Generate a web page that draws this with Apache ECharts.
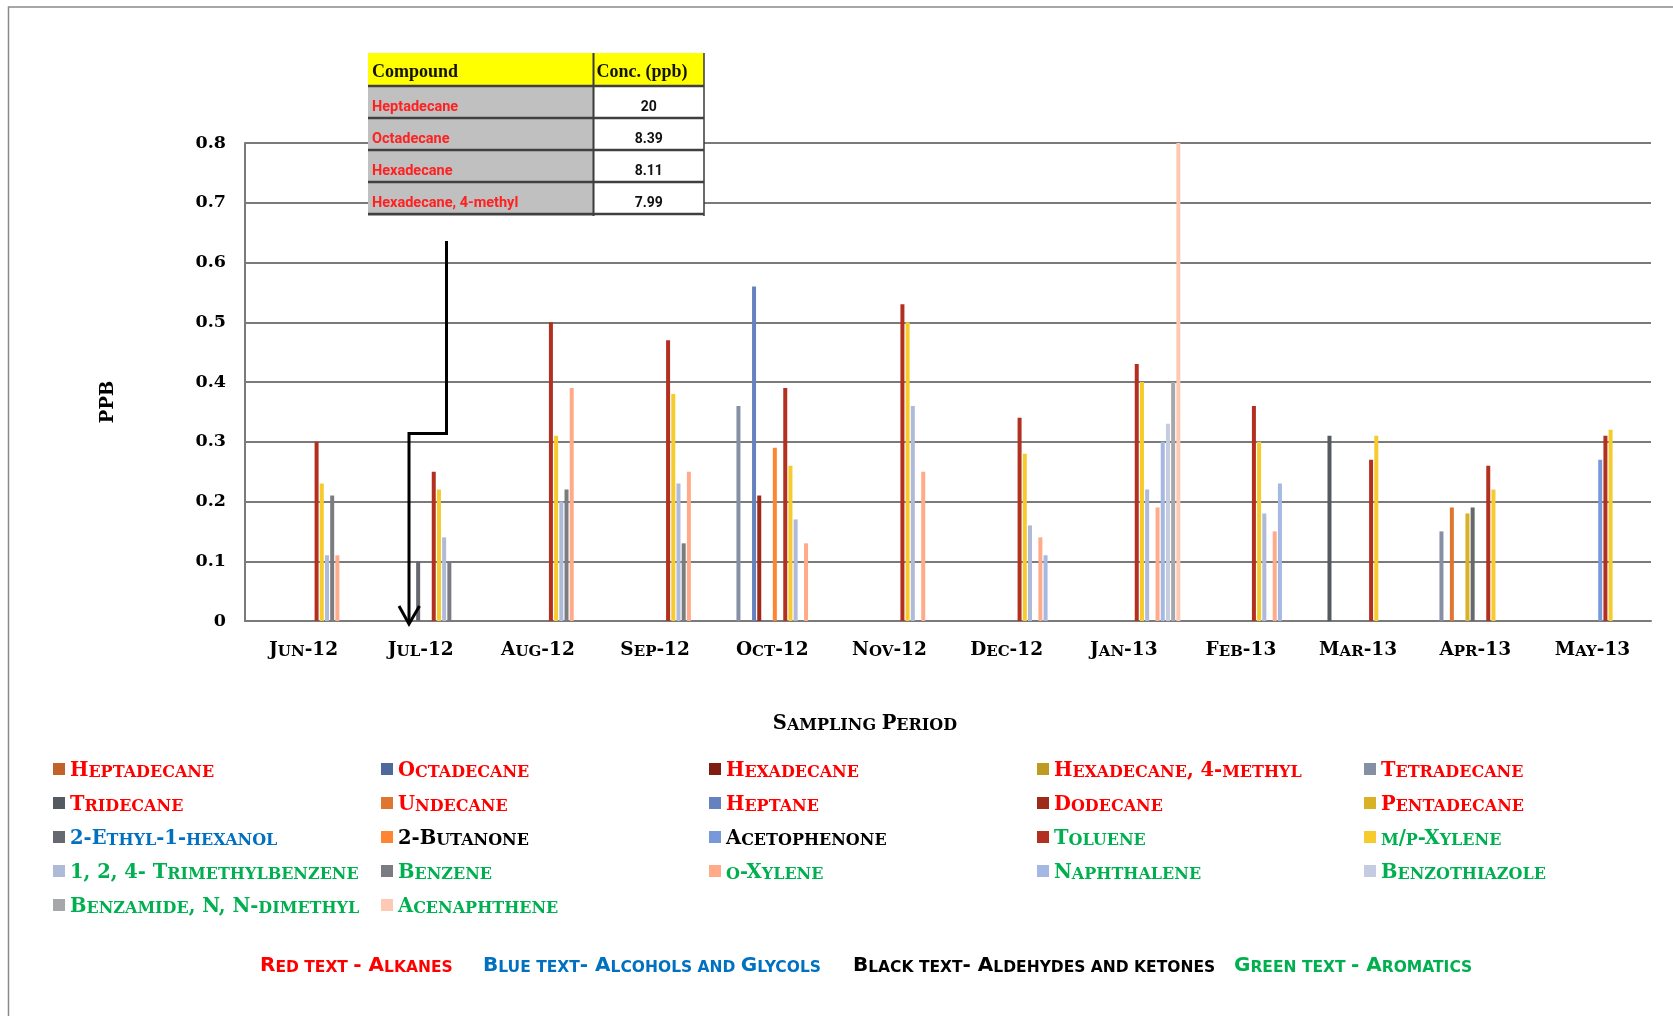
<!DOCTYPE html>
<html>
<head>
<meta charset="utf-8">
<title>VOC concentrations by sampling period</title>
<script src="https://cdn.jsdelivr.net/npm/echarts@6/dist/echarts.min.js"></script>
<style>
  html, body { margin: 0; padding: 0; background: #fff; }
  #chart { width: 1673px; height: 1016px; }
</style>
</head>
<body>
<div id="chart"></div>
<script>
var _ = null;

// sampling months (x axis)
var months = ['Jun-12', 'Jul-12', 'Aug-12', 'Sep-12', 'Oct-12', 'Nov-12',
              'Dec-12', 'Jan-13', 'Feb-13', 'Mar-13', 'Apr-13', 'May-13'];

// concentrations in ppb, one value per month, null = not detected
var heptadecane   = [_, _, _, _, _, _, _, _, _, _, _, _];
var octadecane    = [_, _, _, _, _, _, _, _, _, _, _, _];
var hexadecane    = [_, _, _, _, _, _, _, _, _, _, _, _];
var hexadecane4m  = [_, _, _, _, _, _, _, _, _, _, _, _];
var tetradecane   = [_, _, _, _, 0.36, _, _, _, _, _, 0.15, _];
var tridecane     = [_, _, _, _, _, _, _, _, _, 0.31, _, _];
var undecane      = [_, _, _, _, _, _, _, _, _, _, 0.19, _];
var heptane       = [_, _, _, _, 0.56, _, _, _, _, _, _, _];
var dodecane      = [_, _, _, _, 0.21, _, _, _, _, _, _, _];
var pentadecane   = [_, _, _, _, _, _, _, _, _, _, 0.18, _];
var ethylhexanol  = [_, 0.10, _, _, _, _, _, _, _, _, 0.19, _];
var butanone      = [_, _, _, _, 0.29, _, _, _, _, _, _, _];
var acetophenone  = [_, _, _, _, _, _, _, _, _, _, _, 0.27];
var toluene       = [0.30, 0.25, 0.50, 0.47, 0.39, 0.53, 0.34, 0.43, 0.36, 0.27, 0.26, 0.31];
var mpXylene      = [0.23, 0.22, 0.31, 0.38, 0.26, 0.50, 0.28, 0.40, 0.30, 0.31, 0.22, 0.32];
var tmb           = [0.11, 0.14, 0.20, 0.23, 0.17, 0.36, 0.16, 0.22, 0.18, _, _, _];
var benzene       = [0.21, 0.10, 0.22, 0.13, _, _, _, _, _, _, _, _];
var oXylene       = [0.11, _, 0.39, 0.25, 0.13, 0.25, 0.14, 0.19, 0.15, _, _, _];
var naphthalene   = [_, _, _, _, _, _, 0.11, 0.30, 0.23, _, _, _];
var benzothiazole = [_, _, _, _, _, _, _, 0.33, _, _, _, _];
var benzamide     = [_, _, _, _, _, _, _, 0.40, _, _, _, _];
var acenaphthene  = [_, _, _, _, _, _, _, 0.80, _, _, _, _];

var compounds = ['Heptadecane', 'Octadecane', 'Hexadecane', 'Hexadecane, 4-methyl', 'Tetradecane',
                 'Tridecane', 'Undecane', 'Heptane', 'Dodecane', 'Pentadecane',
                 '2-Ethyl-1-hexanol', '2-Butanone', 'Acetophenone', 'Toluene', 'm/p-Xylene',
                 '1, 2, 4- Trimethylbenzene', 'Benzene', 'o-Xylene', 'Naphthalene', 'Benzothiazole',
                 'Benzamide, N, N-dimethyl', 'Acenaphthene'];
var values = [heptadecane, octadecane, hexadecane, hexadecane4m, tetradecane,
              tridecane, undecane, heptane, dodecane, pentadecane,
              ethylhexanol, butanone, acetophenone, toluene, mpXylene,
              tmb, benzene, oXylene, naphthalene, benzothiazole,
              benzamide, acenaphthene];
// r = alkanes, u = alcohols, k = ketones, g = aromatics
var groups = ['r', 'r', 'r', 'r', 'r', 'r', 'r', 'r', 'r', 'r',
              'u', 'k', 'k', 'g', 'g', 'g', 'g', 'g', 'g', 'g', 'g', 'g'];
var colors = ['#C0622A', '#4F6A9A', '#7F1E10', '#BF9A20', '#8590A5',
              '#555960', '#DE7530', '#6582BE', '#9E2A18', '#D8B125',
              '#65686F', '#FF8533', '#7799D9', '#B2301F', '#F6CB2D',
              '#AEBAD8', '#7A7C82', '#FFAA88', '#A5B8E3', '#C5CCE2',
              '#A5A7AA', '#FDC8B4'];

// inset table
var tableCompounds = ['Heptadecane', 'Octadecane', 'Hexadecane', 'Hexadecane, 4-methyl'];
var tableConc = ['20', '8.39', '8.11', '7.99'];

var groupColor = { r: '#FF0000', u: '#0070C0', k: '#000000', g: '#00B050' };
var SERIF = '"DejaVu Serif", serif';

// fake small caps with rich text: lower case letters become smaller capitals
function smallCaps(text, big, small) {
  var out = '', run = '', key = null;
  for (var i = 0; i < text.length; i++) {
    var ch = text[i];
    var k = (ch >= 'a' && ch <= 'z') ? small : (ch === ' ' && key ? key : big);
    if (k !== key && run) {
      out += '{' + key + '|' + run + '}';
      run = '';
    }
    key = k;
    run += ch.toUpperCase();
  }
  if (run) out += '{' + key + '|' + run + '}';
  return out;
}

// rich styles; graphic texts want "fill", components want "color"
function capsRich(bigSize, smallSize, family, colorsByKey) {
  var rich = {};
  Object.keys(colorsByKey).forEach(function (c) {
    rich[c + 'B'] = { fontSize: bigSize, fontWeight: 'bold', fontFamily: family, color: colorsByKey[c],
                      fill: colorsByKey[c], verticalAlign: 'bottom', lineHeight: 24 };
    rich[c + 'S'] = { fontSize: smallSize, fontWeight: 'bold', fontFamily: family, color: colorsByKey[c],
                      fill: colorsByKey[c], verticalAlign: 'bottom', lineHeight: 24 };
  });
  return rich;
}

var legendRich = capsRich(19.5, 16, SERIF, groupColor);

// legend: five columns, read across the rows
var legendCols = [[0, 5, 10, 15, 20], [1, 6, 11, 16, 21], [2, 7, 12, 17], [3, 8, 13, 18], [4, 9, 14, 19]];
var legendLeft = [53, 381, 709, 1037, 1364];
var legends = legendCols.map(function (idx, c) {
  return {
    orient: 'vertical',
    left: legendLeft[c],
    top: 761,
    padding: 0,
    itemWidth: 12,
    itemHeight: 12,
    itemGap: 14,
    icon: 'rect',
    selectedMode: false,
    data: idx.map(function (i) { return compounds[i]; }),
    formatter: function (name) {
      var g = groups[compounds.indexOf(name)];
      return smallCaps(name, g + 'B', g + 'S');
    },
    textStyle: { rich: legendRich }
  };
});

var series = compounds.map(function (name, i) {
  return {
    name: name,
    type: 'bar',
    data: values[i],
    barWidth: 4,
    barGap: '30%',
    itemStyle: { color: colors[i] }
  };
});

// inset table + arrow (drawn over the grid lines)
var tblL = 368, tblR = 704, tblSplit = 593.5, tblTop = 53, headB = 86, rowH = 32;
var tableEls = [
  { type: 'rect', shape: { x: tblL, y: tblTop, width: tblR - tblL, height: headB - tblTop }, style: { fill: '#FFFF00' } },
  { type: 'rect', shape: { x: tblL, y: headB, width: tblSplit - tblL, height: rowH * 4 + 2 }, style: { fill: '#C0C0C0' } },
  { type: 'rect', shape: { x: tblSplit, y: headB, width: tblR - tblSplit, height: rowH * 4 + 2 }, style: { fill: '#FFFFFF' } },
  { type: 'line', shape: { x1: tblSplit, y1: tblTop, x2: tblSplit, y2: headB + rowH * 4 + 2 }, style: { stroke: '#3a3a3a', lineWidth: 2 } },
  { type: 'line', shape: { x1: tblR, y1: tblTop, x2: tblR, y2: headB + rowH * 4 + 2 }, style: { stroke: '#3a3a3a', lineWidth: 1.5 } },
  { type: 'text', style: { text: 'Compound', x: tblL + 4, y: 72, font: 'bold 18px "Liberation Serif", serif',
    fill: '#141400', align: 'left', textAlign: 'left', verticalAlign: 'middle', textVerticalAlign: 'middle' } },
  { type: 'text', style: { text: 'Conc. (ppb)', x: tblSplit + 3, y: 72, font: 'bold 18px "Liberation Serif", serif',
    fill: '#141400', align: 'left', textAlign: 'left', verticalAlign: 'middle', textVerticalAlign: 'middle' } }
];
for (var r = 0; r <= 4; r++) {
  tableEls.push({ type: 'line', shape: { x1: tblL, y1: headB + r * rowH, x2: tblR, y2: headB + r * rowH },
                  style: { stroke: '#404040', lineWidth: 2.5 } });
}
tableCompounds.forEach(function (name, i) {
  var cy = headB + i * rowH + 21;
  tableEls.push({ type: 'text', style: { text: name, x: tblL + 4, y: cy, font: 'bold 14.5px Roboto, sans-serif',
    fill: '#FF2020', align: 'left', textAlign: 'left', verticalAlign: 'middle', textVerticalAlign: 'middle' } });
  tableEls.push({ type: 'text', style: { text: tableConc[i], x: (tblSplit + tblR) / 2, y: cy, font: 'bold 14px Roboto, sans-serif',
    fill: '#111', align: 'center', textAlign: 'center', verticalAlign: 'middle', textVerticalAlign: 'middle' } });
});
tableEls.forEach(function (el) { el.z = 20; });

var arrowEls = [
  { type: 'polyline', z: 21, shape: { points: [[446.5, 241], [446.5, 433.5], [409, 433.5], [409, 622]] },
    style: { stroke: '#000', lineWidth: 3, fill: null } },
  { type: 'polyline', z: 21, shape: { points: [[399, 606], [409, 624], [419.5, 606]] },
    style: { stroke: '#000', lineWidth: 3, fill: null } }
];

var footRich = capsRich(20, 15.5, '"DejaVu Sans", sans-serif', groupColor);
var footTexts = [['Red text - Alkanes', 'r', 260], ['Blue text- Alcohols and Glycols', 'u', 483],
                 ['Black text- Aldehydes and ketones', 'k', 853], ['Green text - Aromatics', 'g', 1234]];
var footEls = footTexts.map(function (f) {
  return { type: 'text', z: 20, style: { text: smallCaps(f[0], f[1] + 'B', f[1] + 'S'), x: f[2], y: 964, rich: footRich,
    fill: groupColor[f[1]], align: 'left', textAlign: 'left', verticalAlign: 'middle', textVerticalAlign: 'middle' } };
});

var titleRich = capsRich(19.5, 16, SERIF, { k: '#000' });
var axisRich = capsRich(18.5, 15, SERIF, { k: '#000' });

var chart = echarts.init(document.getElementById('chart'));
chart.setOption({
  animation: false,
  backgroundColor: '#fff',
  grid: { left: 245, right: 22, top: 143, bottom: 395 },
  legend: legends,
  xAxis: {
    type: 'category',
    data: months,
    axisLine: { lineStyle: { color: '#7a7a7a', width: 2 } },
    axisTick: { show: false },
    axisLabel: {
      interval: 0,
      margin: 15,
      formatter: function (v) { return smallCaps(v, 'kB', 'kS'); },
      rich: axisRich
    }
  },
  yAxis: {
    type: 'value',
    min: 0,
    max: 0.8,
    interval: 0.1,
    axisLine: { show: true, lineStyle: { color: '#7a7a7a', width: 2 } },
    axisTick: { show: false },
    splitLine: { lineStyle: { color: '#7a7a7a', width: 2 } },
    axisLabel: { margin: 19, fontSize: 17.5, fontWeight: 'bold', fontFamily: SERIF, color: '#000' }
  },
  series: series,
  graphic: [
    { type: 'rect', z: 0, silent: true, shape: { x: 8.5, y: 7, width: 1720, height: 1100 },
      style: { fill: null, stroke: '#8a8a8a', lineWidth: 1.5 } },
    { type: 'group', children: tableEls },
    { type: 'group', children: arrowEls },
    { type: 'text', z: 20, style: { text: smallCaps('Sampling Period', 'kB', 'kS'), x: 865, y: 722, rich: titleRich,
      fill: '#000', align: 'center', textAlign: 'center', verticalAlign: 'middle', textVerticalAlign: 'middle' } },
    { type: 'text', z: 20, x: 108, y: 402, rotation: Math.PI / 2,
      style: { text: 'PPB', x: 0, y: 0, font: 'bold 18px "DejaVu Serif", serif', fill: '#000',
      align: 'center', textAlign: 'center', verticalAlign: 'middle', textVerticalAlign: 'middle' } },
    { type: 'group', children: footEls }
  ]
});
</script>
</body>
</html>
